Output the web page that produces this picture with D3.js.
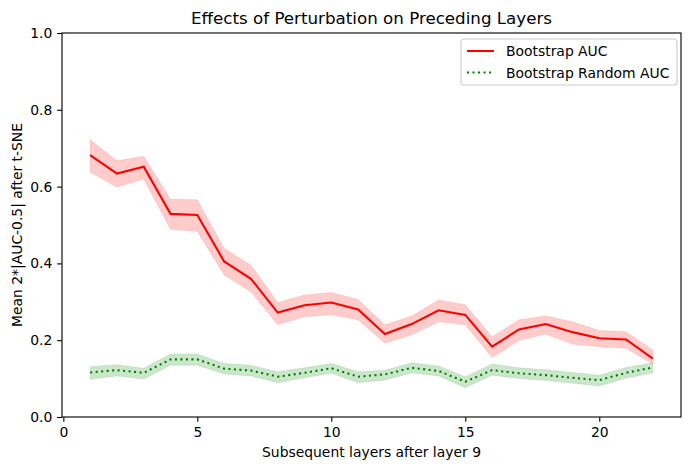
<!DOCTYPE html>
<html>
<head>
<meta charset="utf-8">
<script src="https://cdn.jsdelivr.net/npm/d3@7/dist/d3.min.js"></script>
<style>
  body { margin: 0; background: #fff; }
  svg { font-family: "DejaVu Sans", sans-serif; }
</style>
</head>
<body>
<svg id="chart" width="691" height="470"></svg>
<script>
  // layers after layer 9
  const layers = d3.range(1, 23);

  const aucMean = [0.682, 0.634, 0.652, 0.529, 0.526, 0.405, 0.360, 0.272, 0.291, 0.298, 0.280,
                   0.216, 0.242, 0.278, 0.266, 0.183, 0.228, 0.242, 0.221, 0.205, 0.202, 0.152];
  const aucLow  = [0.638, 0.598, 0.620, 0.489, 0.483, 0.370, 0.326, 0.240, 0.261, 0.267, 0.253,
                   0.192, 0.214, 0.248, 0.240, 0.155, 0.199, 0.216, 0.190, 0.183, 0.179, 0.138];
  const aucHigh = [0.722, 0.667, 0.679, 0.567, 0.566, 0.439, 0.396, 0.298, 0.318, 0.324, 0.306,
                   0.240, 0.263, 0.305, 0.292, 0.209, 0.253, 0.263, 0.248, 0.225, 0.222, 0.174];

  const randMean = [0.116, 0.122, 0.115, 0.150, 0.150, 0.126, 0.121, 0.105, 0.115, 0.127, 0.105,
                    0.111, 0.128, 0.120, 0.092, 0.122, 0.114, 0.109, 0.102, 0.096, 0.115, 0.129];
  const randLow  = [0.098, 0.107, 0.099, 0.135, 0.135, 0.112, 0.107, 0.089, 0.102, 0.114, 0.089,
                    0.096, 0.115, 0.107, 0.076, 0.109, 0.100, 0.095, 0.088, 0.081, 0.101, 0.115];
  const randHigh = [0.131, 0.136, 0.127, 0.164, 0.164, 0.139, 0.135, 0.118, 0.128, 0.139, 0.118,
                    0.122, 0.141, 0.133, 0.105, 0.138, 0.128, 0.123, 0.116, 0.109, 0.129, 0.141];

  const xTicks = [0, 5, 10, 15, 20];
  const yTicks = [0, 0.2, 0.4, 0.6, 0.8, 1.0];

  const margin = {left: 62, right: 10, top: 33, bottom: 53};
  const width = 691, height = 470;

  const svg = d3.select('#chart');

  const x = d3.scaleLinear().domain([-0.05, 23.05]).range([margin.left, width - margin.right]);
  const y = d3.scaleLinear().domain([0, 1]).range([height - margin.bottom, margin.top]);

  const band = (lo, hi) => d3.area()
    .x((d, i) => x(layers[i]))
    .y0((d, i) => y(lo[i]))
    .y1((d, i) => y(hi[i]));

  const line = d3.line()
    .x((d, i) => x(layers[i]))
    .y(d => y(d));

  svg.append('path').datum(aucMean)
    .attr('d', band(aucLow, aucHigh))
    .attr('fill', 'red').attr('fill-opacity', 0.2)
    .attr('stroke', 'red').attr('stroke-opacity', 0.1);

  svg.append('path').datum(randMean)
    .attr('d', band(randLow, randHigh))
    .attr('fill', 'green').attr('fill-opacity', 0.2)
    .attr('stroke', 'green').attr('stroke-opacity', 0.1);

  svg.append('path').datum(aucMean)
    .attr('d', line)
    .attr('fill', 'none')
    .attr('stroke', 'red')
    .attr('stroke-width', 2.08);

  svg.append('path').datum(randMean)
    .attr('d', line)
    .attr('fill', 'none')
    .attr('stroke', 'green')
    .attr('stroke-width', 2.08)
    .attr('stroke-dasharray', '2.08,3.43');

  // axes
  const xAxis = svg.append('g')
    .attr('transform', `translate(0,${y(0)})`)
    .call(d3.axisBottom(x).tickValues(xTicks).tickFormat(d3.format('d')).tickSize(4.86).tickPadding(4.9));
  const yAxis = svg.append('g')
    .attr('transform', `translate(${x.range()[0]},0)`)
    .call(d3.axisLeft(y).tickValues(yTicks).tickFormat(d3.format('.1f')).tickSize(4.86).tickPadding(4.9));

  [xAxis, yAxis].forEach(g => {
    g.select('.domain').remove();
    g.selectAll('line').attr('stroke', '#000').attr('stroke-width', 1.11);
    g.selectAll('text').attr('font-size', 13.9).attr('fill', '#000')
      .attr('font-family', '"DejaVu Sans", sans-serif');
  });

  svg.append('rect')
    .attr('x', x.range()[0]).attr('y', y.range()[1])
    .attr('width', x.range()[1] - x.range()[0])
    .attr('height', y.range()[0] - y.range()[1])
    .attr('fill', 'none').attr('stroke', '#000').attr('stroke-width', 1.11);

  const cx = (x.range()[0] + x.range()[1]) / 2;

  svg.append('text')
    .attr('x', cx).attr('y', 24)
    .attr('text-anchor', 'middle')
    .attr('font-size', 16.7)
    .text('Effects of Perturbation on Preceding Layers');

  svg.append('text')
    .attr('x', cx).attr('y', 457)
    .attr('text-anchor', 'middle')
    .attr('font-size', 13.9)
    .text('Subsequent layers after layer 9');

  svg.append('text')
    .attr('transform', `translate(22,${(y.range()[0] + y.range()[1]) / 2}) rotate(-90)`)
    .attr('text-anchor', 'middle')
    .attr('font-size', 13.9)
    .text('Mean 2*|AUC-0.5| after t-SNE');

  // legend
  const legend = svg.append('g').attr('transform', 'translate(461,39)');
  legend.append('rect')
    .attr('width', 216).attr('height', 46).attr('rx', 3)
    .attr('fill', '#fff').attr('fill-opacity', 0.8)
    .attr('stroke', '#ccc').attr('stroke-width', 1.11);

  const legendItems = [
    {label: 'Bootstrap AUC', color: 'red', dash: null},
    {label: 'Bootstrap Random AUC', color: 'green', dash: '2.08,3.43'}
  ];
  legendItems.forEach((it, i) => {
    const yy = 12 + i * 21.5;
    legend.append('line')
      .attr('x1', 6).attr('x2', 33).attr('y1', yy).attr('y2', yy)
      .attr('stroke', it.color).attr('stroke-width', 2.08)
      .attr('stroke-dasharray', it.dash);
    legend.append('text')
      .attr('x', 45).attr('y', yy + 5)
      .attr('font-size', 13.9)
      .text(it.label);
  });
</script>
</body>
</html>
